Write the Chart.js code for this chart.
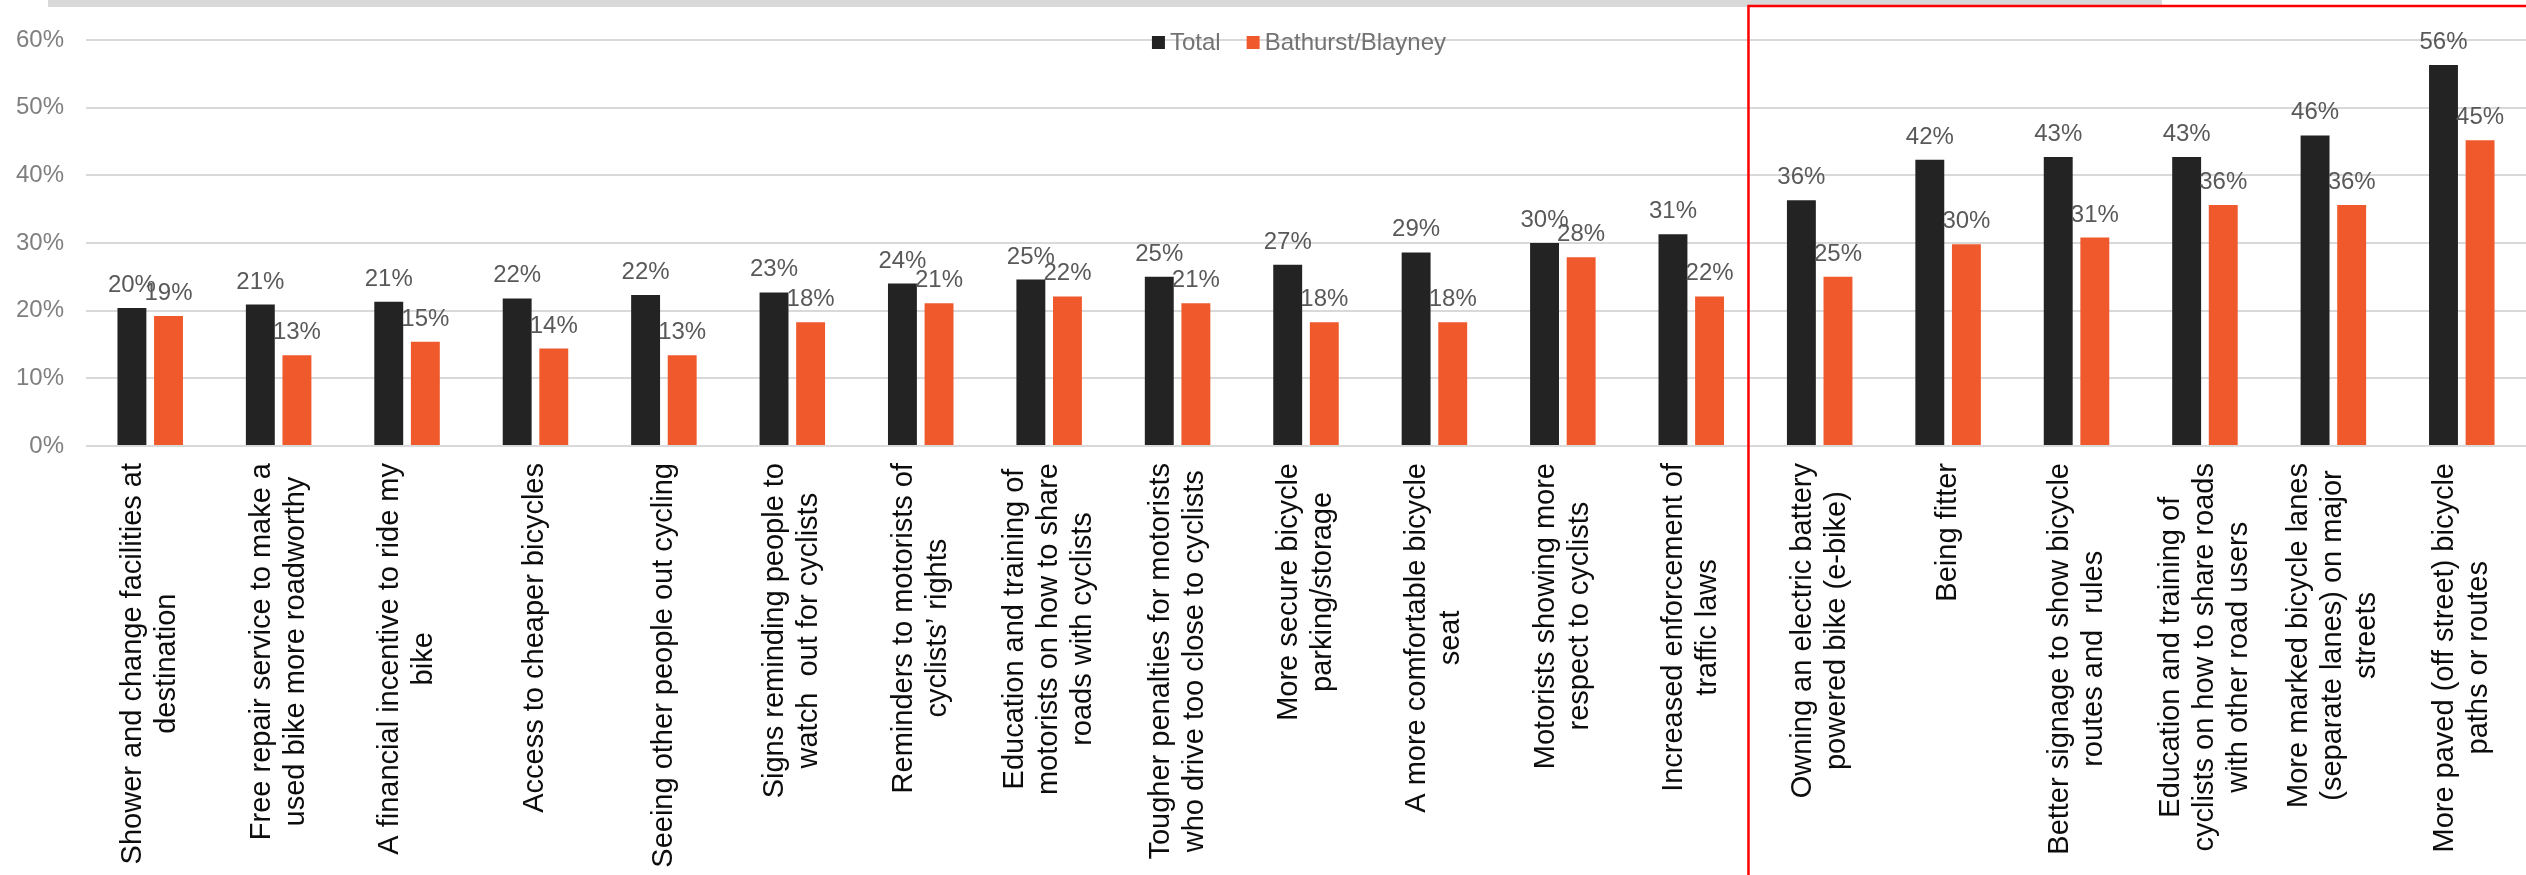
<!DOCTYPE html>
<html>
<head>
<meta charset="utf-8">
<title>What would encourage more cycling</title>
<script src="https://cdn.jsdelivr.net/npm/chart.js@4.4.1/dist/chart.umd.min.js"></script>
<style>
  html, body { margin: 0; padding: 0; background: #ffffff; }
  #chart { display: block; }
</style>
</head>
<body>
<canvas id="chart" width="2526" height="875"></canvas>
<script>
// categories, one array of lines per bar group (rotated labels under the axis)
const categories = [
    ["Shower and change facilities at", "destination"],
    ["Free repair service to make a", "used bike more roadworthy"],
    ["A financial incentive to ride my", "bike"],
    ["Access to cheaper bicycles"],
    ["Seeing other people out cycling"],
    ["Signs reminding people to", "watch  out for cyclists"],
    ["Reminders to motorists of", "cyclists\u2019 rights"],
    ["Education and training of", "motorists on how to share", "roads with cyclists"],
    ["Tougher penalties for motorists", "who drive too close to cyclists"],
    ["More secure bicycle", "parking/storage"],
    ["A more comfortable bicycle", "seat"],
    ["Motorists showing more", "respect to cyclists"],
    ["Increased enforcement of", "traffic laws"],
    ["Owning an electric battery", "powered bike (e-bike)"],
    ["Being fitter"],
    ["Better signage to show bicycle", "routes and  rules"],
    ["Education and training of", "cyclists on how to share roads", "with other road users"],
    ["More marked bicycle lanes", "(separate lanes) on major", "streets"],
    ["More paved (off street) bicycle", "paths or routes"]
];

const seriesNames = ["Total", "Bathurst/Blayney"];
const totalValues = [20.4, 20.9, 21.3, 21.8, 22.3, 22.7, 24.0, 24.6, 25.0, 26.8, 28.6, 30.0, 31.3, 36.3, 42.3, 42.7, 42.7, 45.9, 56.3];
const bathurstValues = [19.2, 13.4, 15.4, 14.4, 13.4, 18.3, 21.1, 22.1, 21.1, 18.3, 18.3, 27.9, 22.1, 25.0, 29.8, 30.8, 35.6, 35.6, 45.2];
const yTicks = [0, 10, 20, 30, 40, 50, 60];

const highlightFrom = 13; // first category inside the red box (Owning an electric...)

const FONT = "'Liberation Sans', Arial, sans-serif";
const colors = ["#232323", "#f0592c"];

// draws the extra bits: top grey strip, value labels, rotated category labels, legend, red box
const decorPlugin = {
    id: "decor",
    beforeDraw(chart) {
        const ctx = chart.ctx;
        ctx.save();
        ctx.fillStyle = "#ffffff";
        ctx.fillRect(0, 0, chart.width, chart.height);
        ctx.fillStyle = "#d9d9d9";
        ctx.fillRect(48, 0, 2114, 7); // strip of the slide frame above the chart
        ctx.restore();
    },
    afterDatasetsDraw(chart) {
        const ctx = chart.ctx;
        ctx.save();
        ctx.font = "24px " + FONT;
        ctx.fillStyle = "#595959";
        ctx.textAlign = "center";
        ctx.textBaseline = "alphabetic";
        chart.data.datasets.forEach((ds, i) => {
            const meta = chart.getDatasetMeta(i);
            meta.data.forEach((bar, j) => {
                ctx.fillText(Math.round(ds.data[j]) + "%", bar.x, bar.y - 16);
            });
        });
        ctx.restore();
    },
    afterDraw(chart) {
        const ctx = chart.ctx;
        const xScale = chart.scales.x;
        const area = chart.chartArea;

        // category labels, rotated, lines centred, block ending near the axis
        ctx.save();
        ctx.font = "29px " + FONT;
        ctx.fillStyle = "#0d0d0d";
        ctx.textAlign = "center";
        ctx.textBaseline = "middle";
        const lineH = 34;
        categories.forEach((lines, i) => {
            const x = xScale.getPixelForTick(i);
            let w = 0;
            lines.forEach(l => { w = Math.max(w, ctx.measureText(l).width); });
            ctx.save();
            ctx.translate(x, area.bottom + 17);
            ctx.rotate(-Math.PI / 2);
            lines.forEach((l, k) => {
                ctx.fillText(l, -w / 2, (k - (lines.length - 1) / 2) * lineH);
            });
            ctx.restore();
        });
        ctx.restore();

        // legend sitting on the top gridline
        ctx.save();
        ctx.font = "24px " + FONT;
        ctx.textBaseline = "middle";
        ctx.textAlign = "left";
        const box = 13, gapText = 5, gapItem = 26;
        let widths = seriesNames.map(n => box + gapText + ctx.measureText(n).width);
        let totalW = widths.reduce((a, b) => a + b, 0) + gapItem * (seriesNames.length - 1);
        let lx = (area.left + area.right) / 2 - 7 - totalW / 2;
        const ly = area.top + 2.5;
        seriesNames.forEach((n, i) => {
            ctx.fillStyle = colors[i];
            ctx.fillRect(lx, ly - box / 2, box, box);
            ctx.fillStyle = "#737373";
            ctx.fillText(n, lx + box + gapText, ly + 1);
            lx += widths[i] + gapItem;
        });
        ctx.restore();

        // red highlight box round the last group of categories
        const bx = (xScale.getPixelForTick(highlightFrom - 1) + xScale.getPixelForTick(highlightFrom)) / 2 - 7;
        ctx.save();
        ctx.strokeStyle = "#ff0000";
        ctx.lineWidth = 2.5;
        ctx.strokeRect(bx, 6, chart.width - bx + 10, chart.height + 10);
        ctx.restore();
    }
};

const chart_canvas = document.getElementById("chart");

let cyclingChart = new Chart(chart_canvas, {
    type: "bar",
    data: {
        labels: categories,
        datasets: [
            {
                label: seriesNames[0],
                data: totalValues,
                backgroundColor: colors[0],
                categoryPercentage: 0.57,
                barPercentage: 0.79
            },
            {
                label: seriesNames[1],
                data: bathurstValues,
                backgroundColor: colors[1],
                categoryPercentage: 0.57,
                barPercentage: 0.79
            }
        ]
    },
    options: {
        responsive: false,
        animation: false,
        devicePixelRatio: 1,
        layout: {
            padding: { top: 40, right: 0, bottom: 0, left: 0 }
        },
        plugins: {
            legend: { display: false },
            tooltip: { enabled: false }
        },
        scales: {
            x: {
                grid: { display: false },
                border: { display: false },
                ticks: { display: false },
                afterFit(scale) {
                    scale.height = 429; // room for the rotated labels
                }
            },
            y: {
                min: 0,
                max: 60,
                afterBuildTicks(scale) {
                    scale.ticks = yTicks.map(v => ({ value: v }));
                },
                afterFit(scale) {
                    scale.width = 86;
                },
                grid: {
                    color: "#d9d9d9",
                    lineWidth: 2,
                    drawTicks: false
                },
                border: { display: false },
                ticks: {
                    color: "#7f7f7f",
                    padding: 22,
                    font: { family: FONT, size: 24 },
                    callback: v => v + "%"
                }
            }
        }
    },
    plugins: [decorPlugin]
});
</script>
</body>
</html>
